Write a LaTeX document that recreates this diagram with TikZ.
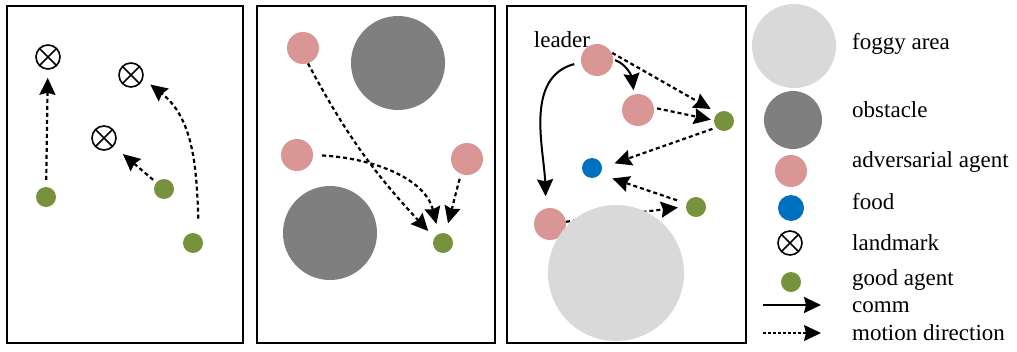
\documentclass[tikz,border=0pt]{standalone}
\usepackage{fontspec}
\setmainfont{Liberation Serif}
\usetikzlibrary{arrows.meta}
\definecolor{goodc}{RGB}{118,146,60}
\definecolor{advc}{RGB}{217,150,148}
\definecolor{obsc}{RGB}{127,127,127}
\definecolor{fogc}{RGB}{217,217,217}
\definecolor{foodc}{RGB}{0,112,192}
\tikzset{
  panel/.style={draw=black,line width=1.6pt},
  good/.style={circle,fill=goodc,inner sep=0pt,minimum size=20pt},
  adv/.style={circle,fill=advc,inner sep=0pt,minimum size=32pt},
  obst/.style={circle,fill=obsc,inner sep=0pt,minimum size=#1},
  fog/.style={circle,fill=fogc,inner sep=0pt,minimum size=#1},
  food/.style={circle,fill=foodc,inner sep=0pt,minimum size=#1},
  lmark/.style={circle,draw=black,line width=1.6pt,inner sep=0pt,minimum size=24pt,
    path picture={\draw[line width=1.6pt] (path picture bounding box.south west) -- (path picture bounding box.north east)
      (path picture bounding box.north west) -- (path picture bounding box.south east);}},
  tip/.style={-{Stealth[length=17pt,width=16pt,inset=2pt]}},
  motion/.style={tip,line width=2.2pt,dash pattern=on 4pt off 3pt},
  comm/.style={tip,line width=2pt},
  lbl/.style={anchor=west,inner sep=0pt,font=\fontsize{23}{26}\selectfont},
}
\begin{document}
\begin{tikzpicture}[x=1pt,y=-1pt]
\useasboundingbox (0,0) rectangle (1017,351);
% panels
\draw[panel] (7,6) rectangle (243,343);
\draw[panel] (257,6) rectangle (495,343);
\draw[panel] (507,6) rectangle (746,343);

% ---- panel 1
\node[lmark] (L1) at (48,57) {};
\node[lmark] (L2) at (131,75) {};
\node[lmark] (L3) at (104,138) {};
\node[good] (g1) at (46,197) {};
\node[good] (g2) at (164,189) {};
\node[good] (g3) at (193,243) {};
\draw[motion,shorten <=7pt,shorten >=8pt] (g1) -- (L1);
\draw[motion,shorten <=4pt,shorten >=12pt] (g2) -- (L3);
\draw[motion,shorten <=16pt,shorten >=9pt] (g3.55) to[out=92,in=-38] (L2.-18);

% ---- panel 2
\node[obst=94pt] (O1) at (398,63) {};
\node[obst=94pt] (O2) at (330,233) {};
\node[adv] (A1) at (303,48) {};
\node[adv] (A2) at (297,155) {};
\node[adv] (A3) at (467,159) {};
\node[good] (G) at (443,243) {};
\draw[motion,shorten >=9pt] (A1.-72) to[out=-62,in=133] (G.148);
\draw[motion,shorten <=9pt,shorten >=10pt] (A2.east) to[out=-3,in=104] (G.114);
\draw[motion,shorten <=5pt,shorten >=10pt] (A3.-112) to[out=-105,in=75] (G.76);

% ---- panel 3
\node[font=\fontsize{23}{26}\selectfont,inner sep=0pt] (lead) at (562,40) {leader};
\node[adv] (L) at (597,60) {};
\node[adv] (B) at (638,110) {};
\node[adv] (C) at (550,224) {};
\node[good] (GA) at (724,121) {};
\node[good] (GB) at (696,207) {};
\node[food=20pt] (F) at (592,168) {};
\draw[comm,shorten <=7pt,shorten >=12pt] (L.188) to[out=195,in=92] (C.104);
\draw[comm,shorten <=2pt,shorten >=4pt] (L.2) to[out=-20,in=97] (B.104);
\draw[motion,shorten <=1pt,shorten >=8pt] (L.28) -- (GA.128);
\draw[motion,shorten <=3pt,shorten >=3pt] (B.8) -- (GA.176);
\draw[motion,shorten <=4pt,shorten >=13pt] (GA.-140) -- (F.2);
\draw[motion,shorten <=10pt,shorten >=13pt] (GB.160) -- (F.-38);
\draw[motion,shorten >=8pt] (C.8) -- (GB.177);
\node[fog=136pt] (FOG) at (616,273) {};

% ---- legend
\node[fog=84pt] (kfog) at (794,46) {};
\node[obst=58pt] (kobs) at (793,120) {};
\node[adv] (kadv) at (791,171) {};
\node[food=26pt] (kfood) at (791,208) {};
\node[lmark] (klm) at (790,243) {};
\node[good] (kgood) at (791,282) {};
\coordinate (c1) at (763,305);
\coordinate (c2) at (821,305);
\coordinate (m1) at (763,333);
\coordinate (m2) at (821,333);
\draw[comm] (c1) -- (c2);
\draw[tip,line width=1.3pt,dash pattern=on 3pt off 2pt] (m1) -- (m2);
\node[lbl] (t1) at (852,44) {foggy area};
\node[lbl] (t2) at (852,110) {obstacle};
\node[lbl] (t3) at (852,162) {adversarial agent};
\node[lbl] (t4) at (852,202) {food};
\node[lbl] (t5) at (852,243) {landmark};
\node[lbl] (t6) at (852,280) {good agent};
\node[lbl] (t7) at (852,307) {comm};
\node[lbl] (t8) at (852,333) {motion direction};
\end{tikzpicture}
\end{document}
